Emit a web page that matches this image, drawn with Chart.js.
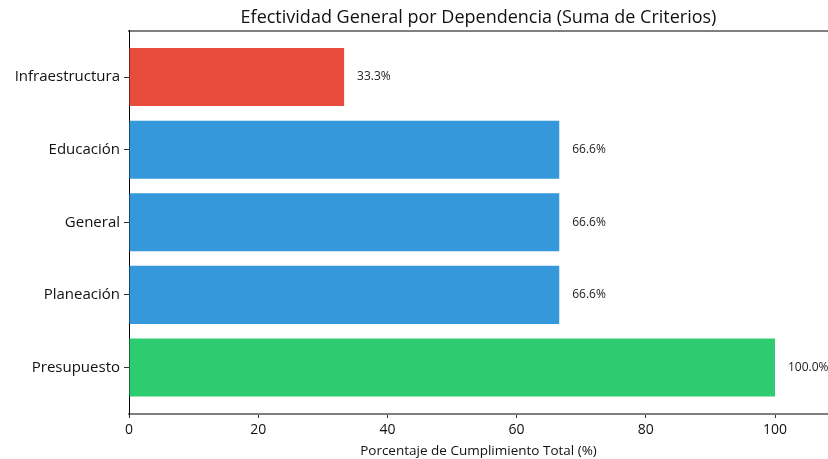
<!DOCTYPE html>
<html>
<head>
<meta charset="utf-8">
<script src="https://cdn.jsdelivr.net/npm/chart.js@4"></script>
<style>
  html, body { margin: 0; padding: 0; background: #fff; overflow: hidden; }
  #wrap { width: 828px; height: 459px; }
</style>
</head>
<body>
<div id="wrap"><canvas id="barChart" width="828" height="459"></canvas></div>
<script>
// datos
const categorias = ['Infraestructura', 'Educación', 'General', 'Planeación', 'Presupuesto'];
const porcentajes = [33.3, 66.6, 66.6, 66.6, 100.0];
const colores = ['#e74c3c', '#3498db', '#3498db', '#3498db', '#2ecc71'];
const ticksX = [0, 20, 40, 60, 80, 100];

const FONT = "'Open Sans', 'DejaVu Sans', sans-serif";

// etiquetas de valor al final de cada barra
const valueLabels = {
    id: 'valueLabels',
    afterDatasetsDraw(chart) {
        const ctx = chart.ctx;
        const xs = chart.scales.x;
        const ys = chart.scales.y;
        ctx.save();
        ctx.font = '12px ' + FONT;
        ctx.fillStyle = '#222';
        ctx.textAlign = 'left';
        ctx.textBaseline = 'middle';
        porcentajes.forEach((v, i) => {
            ctx.fillText(v.toFixed(1) + '%', xs.getPixelForValue(v + 2), ys.getPixelForValue(i));
        });
        ctx.restore();
    }
};

new Chart(document.getElementById('barChart'), {
    type: 'bar',
    data: {
        datasets: [{
            data: porcentajes.map((v, i) => ({ x: v, y: i })),
            backgroundColor: colores,
            borderWidth: 0,
            barPercentage: 0.8,
            categoryPercentage: 1.0
        }]
    },
    options: {
        indexAxis: 'y',
        responsive: false,
        animation: false,
        layout: { padding: 0 },
        plugins: {
            legend: { display: false },
            tooltip: { enabled: false },
            title: { display: false }
        },
        scales: {
            x: {
                type: 'linear',
                min: 0,
                max: 108.2,
                afterBuildTicks: (s) => { s.ticks = ticksX.map(v => ({ value: v })); },
                ticks: { color: '#111', font: { family: FONT, size: 14 }, padding: 4 },
                grid: { display: true, drawOnChartArea: false, tickLength: 4, color: '#333' },
                border: { display: true, color: '#808080', width: 2 },
                title: {
                    display: true,
                    text: 'Porcentaje de Cumplimiento Total (%)',
                    color: '#111',
                    font: { family: FONT, size: 13.5 },
                    padding: { top: 0, bottom: 0 }
                }
            },
            // eje superior: solo para el título centrado sobre el área y la línea del marco
            xTop: {
                type: 'linear',
                position: 'top',
                min: 0,
                max: 108.2,
                ticks: { display: false },
                grid: { display: false, drawTicks: false },
                border: { display: true, color: '#808080', width: 2 },
                title: {
                    display: true,
                    text: 'Efectividad General por Dependencia (Suma de Criterios)',
                    color: '#111',
                    font: { family: FONT, size: 18 },
                    padding: { top: 7, bottom: 2 }
                }
            },
            y: {
                type: 'linear',
                reverse: true,
                offset: false,
                min: -0.64,
                max: 4.64,
                afterBuildTicks: (s) => { s.ticks = categorias.map((c, i) => ({ value: i })); },
                afterFit: (s) => { s.width = 129; },
                ticks: {
                    color: '#111',
                    font: { family: FONT, size: 15 },
                    padding: 4,
                    callback: (v) => categorias[v] ?? ''
                },
                grid: { display: true, offset: false, drawOnChartArea: false, tickLength: 5, color: '#333' },
                border: { display: true, color: '#000', width: 1 }
            }
        }
    },
    plugins: [valueLabels]
});
</script>
</body>
</html>
